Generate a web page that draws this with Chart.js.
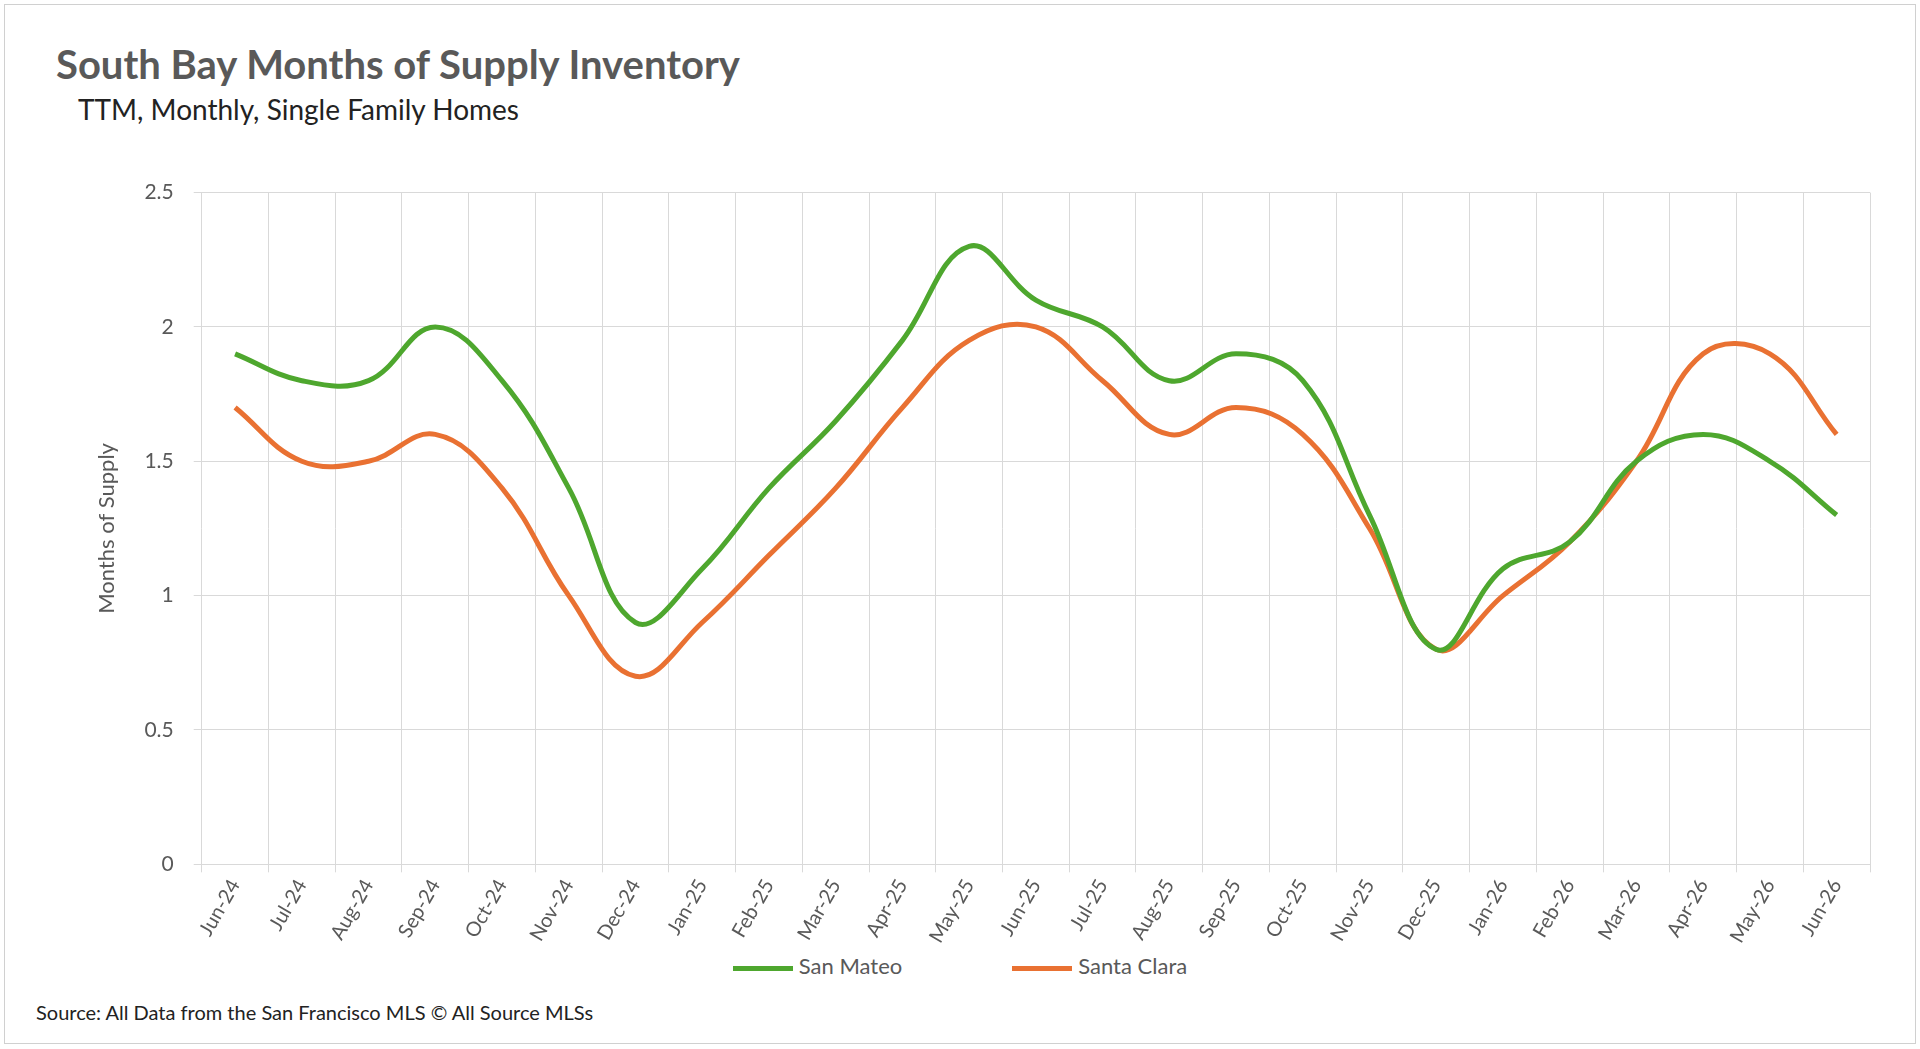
<!DOCTYPE html>
<html><head><meta charset="utf-8">
<script src="https://cdn.jsdelivr.net/npm/chart.js@4"></script>
<style>
body{margin:0;background:#fff;font-family:Lato,"Open Sans",sans-serif}
#frame{position:absolute;left:4px;top:4px;width:1910px;height:1038px;border:1.5px solid #d0d0d0}
#title{position:absolute;left:56px;top:40px;font-size:40px;font-weight:bold;color:#595959}
#sub{position:absolute;left:78px;top:92px;font-size:28px;color:#222}
#src{position:absolute;left:36px;top:1000px;font-size:20px;color:#222}
#wrap{position:absolute;left:90px;top:160px;width:1800px;height:790px}
#legend{position:absolute;top:952px;left:0;width:1920px;text-align:center;font-size:22px;color:#595959}
#legend span{display:inline-block;margin:0 55px}
#legend i{display:inline-block;width:60px;height:5px;vertical-align:middle;margin-right:6px}
</style></head><body>
<div id="frame"></div>
<div id="title">South Bay Months of Supply Inventory</div>
<div id="sub">TTM, Monthly, Single Family Homes</div>
<div id="src">Source: All Data from the San Francisco MLS © All Source MLSs</div>
<div id="wrap"><canvas id="c"></canvas></div>
<div id="legend"></div>
<script>
const months = ['Jun-24','Jul-24','Aug-24','Sep-24','Oct-24','Nov-24','Dec-24','Jan-25','Feb-25','Mar-25','Apr-25','May-25','Jun-25','Jul-25','Aug-25','Sep-25','Oct-25','Nov-25','Dec-25','Jan-26','Feb-26','Mar-26','Apr-26','May-26','Jun-26'];
const sanMateo = [1.9,1.8,1.8,2.0,1.8,1.4,0.9,1.1,1.4,1.65,1.95,2.3,2.1,2.0,1.8,1.9,1.8,1.3,0.8,1.1,1.2,1.5,1.6,1.5,1.3];
const santaClara = [1.7,1.5,1.5,1.6,1.4,1.0,0.7,0.9,1.15,1.4,1.7,1.95,2.0,1.8,1.6,1.7,1.6,1.25,0.8,1.0,1.2,1.5,1.9,1.9,1.6];
const seriesNames = ['San Mateo','Santa Clara'];
const seriesColors = ['#4ea72e','#e97132'];
const tickColor = '#595959';
document.getElementById('legend').innerHTML = seriesNames.map((n,i) =>
  `<span><i style="background:${seriesColors[i]}"></i>${n}</span>`).join('');
new Chart(document.getElementById('c'), {
  type: 'line',
  data: {
    labels: months,
    datasets: [
      {label:seriesNames[0], data:sanMateo, borderColor:seriesColors[0], borderWidth:5, pointRadius:0, tension:0.4},
      {label:seriesNames[1], data:santaClara, borderColor:seriesColors[1], borderWidth:5, pointRadius:0, tension:0.4}
    ]
  },
  options: {
    responsive:true, maintainAspectRatio:false, animation:false,
    layout:{padding:{right:20}},
    plugins:{legend:{display:false}, tooltip:{enabled:false}},
    scales:{
      x:{offset:true, grid:{offset:true, color:'#d9d9d9'}, border:{color:'#d9d9d9'},
         ticks:{color:tickColor, maxRotation:60, minRotation:60, font:{size:20, family:'Lato'}}},
      y:{min:0, max:2.5, grid:{color:'#d9d9d9'}, border:{display:false},
         ticks:{stepSize:0.5, color:tickColor, padding:20, font:{size:21, family:'Lato'}, callback:v => String(v)},
         title:{display:true, text:'Months of Supply', color:tickColor, font:{size:22, family:'Lato'}}}
    }
  }
});
</script>
</body></html>
